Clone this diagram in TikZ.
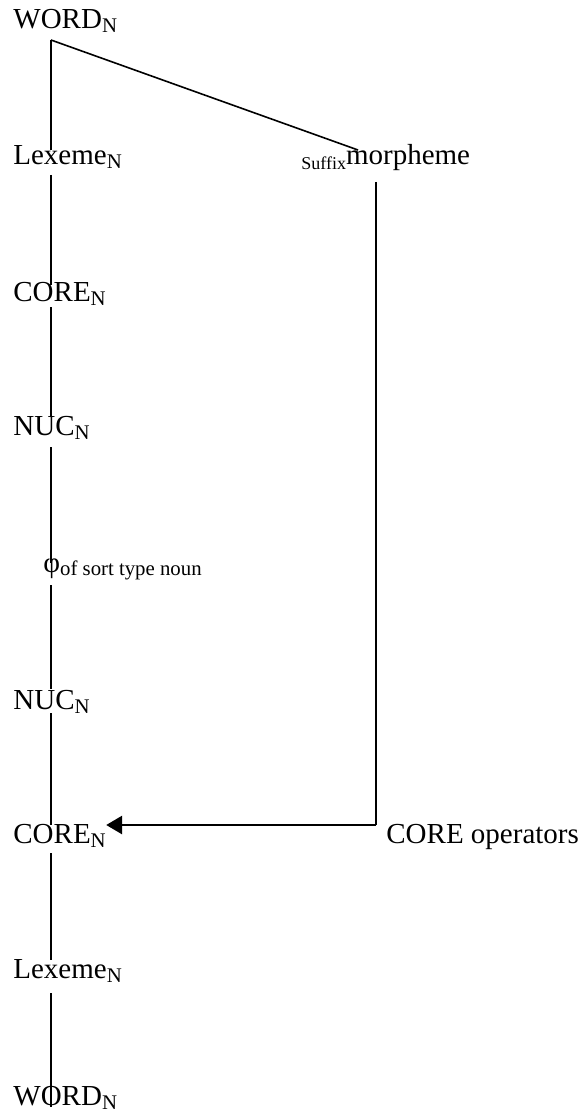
\documentclass[tikz,border=0pt]{standalone}
\usepackage{fontspec}
\setmainfont{Liberation Serif}
\usetikzlibrary{calc,arrows.meta}
\newcommand{\subN}{\raisebox{-2pt}{\fontsize{10.4}{12}\selectfont N}}
\newcommand{\lowtxt}[1]{\raisebox{-1.5pt}{\fontsize{10.4}{12}\selectfont #1}}
\newcommand{\pretxt}[1]{\raisebox{-2.5pt}{\fontsize{9}{11}\selectfont #1}}

\begin{document}
\begin{tikzpicture}[x=0.5pt,y=-0.5pt,
  every node/.style = {
     inner sep=0pt, anchor=base west,
     font=\fontsize{14.5}{17}\selectfont},
  branch/.style = {line width=0.75pt},
  opline/.style = {line width=1.4pt,
     -{Triangle[length=8pt,width=9pt]}}]
  \useasboundingbox (0,0) rectangle (582,1118);
  \coordinate (trunk) at (51,0);

  \node (wordT) at (13,29)   {WORD\subN};
  \node (lexT)  at (13,165)  {Lexeme\subN};
  \node (coreT) at (13,301)  {CORE\subN};
  \node (nucT)  at (13,435)  {NUC\subN};
  \node (phi)   at (43,572)  {φ\lowtxt{of sort type noun}};
  \node (nucB)  at (13,709)  {NUC\subN};
  \node (coreB) at (13,843)  {CORE\subN};
  \node (lexB)  at (13,978)  {Lexeme\subN};
  \node (wordB) at (13,1105) {WORD\subN};

  \node (suffix) at (301,165) {\pretxt{Suffix}morpheme};
  \node (coreop) at (386,843) {CORE operators};

  % trunk
  \coordinate (wtop) at ($(wordT.base -| trunk)+(0,11)$);
  \draw[branch] (wtop) -- ($(lexT.base -| trunk)+(0,-15)$);
  \draw[branch] ($(lexT.base -| trunk)+(0,10)$) -- ($(coreT.base -| trunk)+(0,-16)$);
  \draw[branch] ($(coreT.base -| trunk)+(0,6)$) -- ($(nucT.base -| trunk)+(0,-19)$);
  \draw[branch] ($(nucT.base -| trunk)+(0,12)$) -- ($(phi.base -| trunk)+(0,-9)$);
  \draw[branch] ($(phi.base -| trunk)+(0,13)$) -- ($(nucB.base -| trunk)+(0,-20)$);
  \draw[branch] ($(nucB.base -| trunk)+(0,4)$) -- ($(coreB.base -| trunk)+(0,-18)$);
  \draw[branch] ($(coreB.base -| trunk)+(0,10)$) -- ($(lexB.base -| trunk)+(0,-18)$);
  \draw[branch] ($(lexB.base -| trunk)+(0,15)$) -- ($(wordB.base -| trunk)+(0,2)$);

  % suffix side
  \draw[line width=0.8pt] (wtop) -- ($(suffix.base west)+(57,-15)$);
  \coordinate (opcorner) at ($(coreop.base west)+(-10,-18)$);
  \draw[branch] ($(suffix.base west)+(75,17)$) -- (opcorner);
  \draw[opline] (opcorner) -- ($(coreB.base east)+(0,-18)$);
\end{tikzpicture}
\end{document}
